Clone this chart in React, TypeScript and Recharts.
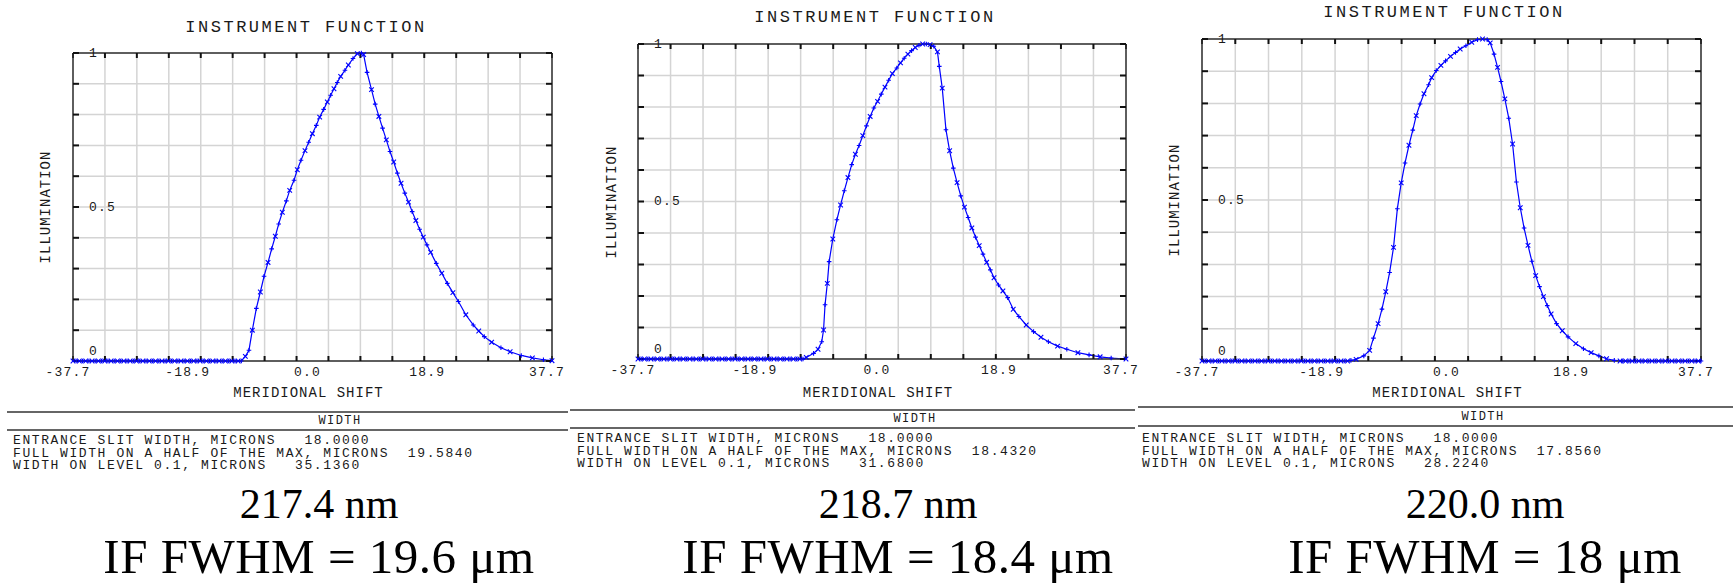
import React from 'react';
import { LineChart, Line, XAxis, YAxis, CartesianGrid } from 'recharts';

// axis ticks (shared by the three panels)
const xGridTicks = [-37.7, -32.67, -27.65, -22.62, -17.59, -12.57, -7.54, -2.51, 2.51, 7.54, 12.57, 17.59, 22.62, 27.65, 32.67, 37.7];
const xLabelTicks = [-37.7, -18.85, 0, 18.85, 37.7];
const xLabelText = ['-37.7', '-18.9', '0.0', '18.9', '37.7'];
const yGridTicks = [0, 0.1, 0.2, 0.3, 0.4, 0.5, 0.6, 0.7, 0.8, 0.9, 1];
const yLabelTicks = [0, 0.5, 1];
const yLabelText = ['0', '0.5', '1'];

// sample positions where the curves sit on zero
const baselineX = [
  -37.7, -37.2, -36.7, -36.2, -35.7, -35.2, -34.7, -34.2, -33.7, -33.2, -32.7, -32.2, -31.7, -31.2,
  -30.7, -30.2, -29.7, -29.2, -28.7, -28.2, -27.7, -27.2, -26.7, -26.2, -25.7, -25.2, -24.7, -24.2,
  -23.7, -23.2, -22.7, -22.2, -21.7, -21.2, -20.7, -20.2, -19.7, -19.2, -18.7, -18.2, -17.7, -17.2,
  -16.7, -16.2, -15.7, -15.2, -14.7, -14.2, -13.7, -13.2, -12.7, -12.2, -11.7, -11.2,
  25.8, 26.3, 26.8, 27.3, 27.8, 28.3, 28.8, 29.3, 29.8, 30.3, 30.8, 31.3, 31.8, 32.3, 32.8, 33.3,
  33.8, 34.3, 34.8, 35.3, 35.8, 36.3, 36.8, 37.3, 37.7,
];

// 217.4 nm  [shift, illumination]
const if2174: [number, number][] = [
  [-10.57, 0.015], [-10.0, 0.035], [-9.47, 0.1], [-8.84, 0.171], [-8.21, 0.224], [-7.63, 0.275],
  [-7.0, 0.32], [-6.43, 0.364], [-5.85, 0.405], [-5.32, 0.445], [-4.75, 0.483], [-4.12, 0.52],
  [-3.59, 0.554], [-2.91, 0.587], [-2.39, 0.621], [-1.81, 0.652], [-1.18, 0.683], [-0.6, 0.71],
  [-0.02, 0.738], [0.6, 0.765], [1.13, 0.792], [1.76, 0.817], [2.33, 0.841], [2.86, 0.863],
  [3.38, 0.884], [3.9, 0.904], [4.43, 0.924], [5.11, 0.944], [5.64, 0.961], [6.37, 0.982],
  [7.06, 0.998], [7.69, 1.0], [8.05, 0.995], [8.59, 0.937], [9.29, 0.881], [9.87, 0.834],
  [10.45, 0.794], [11.03, 0.756], [11.62, 0.718], [12.2, 0.68], [12.78, 0.646], [13.36, 0.61],
  [13.94, 0.577], [14.53, 0.545], [15.11, 0.516], [15.69, 0.485], [16.27, 0.456], [16.86, 0.428],
  [17.44, 0.402], [18.02, 0.377], [18.6, 0.353], [19.48, 0.317], [20.35, 0.285], [21.22, 0.252],
  [22.1, 0.222], [22.97, 0.193], [24.13, 0.15], [25.3, 0.117], [26.17, 0.0975], [27.04, 0.079],
  [28.2, 0.061], [29.66, 0.043], [31.11, 0.03], [32.86, 0.018], [34.61, 0.01], [36.35, 0.004],
  [37.7, 0.001],
];

// 218.7 nm
const if2187: [number, number][] = [
  [-11.7, 0.005], [-10.57, 0.018], [-9.88, 0.031], [-9.31, 0.055], [-9.03, 0.092], [-8.8, 0.172],
  [-8.45, 0.24], [-8.17, 0.309], [-7.6, 0.381], [-6.97, 0.442], [-6.4, 0.489], [-5.83, 0.534],
  [-5.26, 0.576], [-4.68, 0.617], [-4.11, 0.65], [-3.54, 0.678], [-2.97, 0.709], [-2.4, 0.74],
  [-1.83, 0.77], [-1.26, 0.797], [-0.68, 0.818], [-0.11, 0.841], [0.46, 0.863], [1.03, 0.885],
  [1.6, 0.906], [2.29, 0.924], [2.86, 0.94], [3.43, 0.955], [4.0, 0.968], [4.57, 0.979],
  [5.14, 0.989], [5.71, 0.996], [6.28, 1.0], [6.85, 1.0], [7.43, 0.998], [8.0, 0.993],
  [8.57, 0.975], [8.85, 0.929], [9.31, 0.86], [9.88, 0.728], [10.45, 0.661], [11.02, 0.606],
  [11.6, 0.56], [12.17, 0.518], [12.74, 0.482], [13.31, 0.449], [13.88, 0.416], [14.45, 0.387],
  [15.02, 0.36], [15.6, 0.333], [16.17, 0.307], [16.74, 0.283], [17.31, 0.258], [18.0, 0.235],
  [18.68, 0.216], [19.42, 0.195], [20.28, 0.158], [21.14, 0.135], [22.28, 0.108], [23.42, 0.087],
  [24.56, 0.069], [25.71, 0.055], [27.13, 0.041], [28.56, 0.031], [30.27, 0.02], [31.99, 0.013],
  [33.7, 0.007], [35.41, 0.003], [37.7, 0],
];

// 220.0 nm
const if2200: [number, number][] = [
  [-15.2, 0.002], [-14.41, 0.005], [-13.25, 0.016], [-12.37, 0.033], [-11.79, 0.071], [-11.09, 0.116],
  [-10.51, 0.161], [-9.93, 0.215], [-9.35, 0.275], [-8.76, 0.353], [-8.18, 0.473], [-7.6, 0.553],
  [-7.02, 0.615], [-6.43, 0.67], [-5.85, 0.717], [-5.33, 0.762], [-4.75, 0.798], [-4.16, 0.83],
  [-3.46, 0.858], [-3.0, 0.88], [-2.3, 0.902], [-1.6, 0.918], [-0.9, 0.932], [-0.15, 0.946],
  [0.61, 0.958], [1.31, 0.969], [2.18, 0.979], [3.06, 0.99], [3.93, 0.998], [4.69, 1.0],
  [5.39, 0.998], [5.85, 0.988], [6.43, 0.953], [6.96, 0.912], [7.48, 0.868], [8.06, 0.814],
  [8.65, 0.754], [9.23, 0.674], [9.81, 0.556], [10.39, 0.476], [10.97, 0.413], [11.56, 0.359],
  [12.14, 0.31], [12.72, 0.265], [13.3, 0.231], [13.89, 0.2], [14.47, 0.172], [15.05, 0.146],
  [15.87, 0.116], [16.74, 0.094], [17.61, 0.075], [18.78, 0.054], [19.94, 0.038], [21.1, 0.026],
  [22.27, 0.016], [23.43, 0.007], [24.6, 0.002], [25.47, 0],
];

const wavelengths = ['217.4 nm', '218.7 nm', '220.0 nm'];
const fwhmValues = ['19.6', '18.4', '18'];
const slitWidths = ['18.0000', '18.0000', '18.0000'];
const halfMaxWidths = ['19.5840', '18.4320', '17.8560'];
const level01Widths = ['35.1360', '31.6800', '28.2240'];

const toPoints = (pairs: [number, number][]) => pairs.map(([x, y]) => ({ x, y }));
const zeros = (from: number, to: number) =>
  baselineX.filter((x) => x >= from && x <= to).map((x) => ({ x, y: 0 }));

const series = [
  [...zeros(-40, -11.2), ...toPoints(if2174)],
  [...zeros(-40, -12.2), ...toPoints(if2187)],
  [...zeros(-40, -15.7), ...toPoints(if2200), ...zeros(25.8, 40)],
];

// page placement of each panel (plot frame and surrounding texts)
const layout = [
  { box: { left: 73, top: 53, right: 552, bottom: 361 }, titleX: 306, titleY: 27, yLabelX: 46,
    rule: { left: 7, right: 568, y1: 412, y2: 430 }, widthX: 340, widthY: 421, textX: 13, textY: 441, bigX: 319 },
  { box: { left: 638, top: 44, right: 1126, bottom: 359 }, titleX: 875, titleY: 17, yLabelX: 612,
    rule: { left: 570, right: 1135, y1: 410, y2: 428 }, widthX: 915, widthY: 419, textX: 577, textY: 439, bigX: 898 },
  { box: { left: 1202, top: 39, right: 1701, bottom: 361 }, titleX: 1444, titleY: 12, yLabelX: 1175,
    rule: { left: 1138, right: 1733, y1: 407, y2: 426 }, widthX: 1483, widthY: 417, textX: 1142, textY: 439, bigX: 1485 },
];

const MONO = "'Courier New', 'Liberation Mono', monospace";
const SERIF = "'Liberation Serif', 'DejaVu Serif', serif";
const INK = '#1a1a1a';
const BLUE = '#0000ff';
const frame = { stroke: '#333', strokeWidth: 1.5 };
const innerTick = { stroke: '#111', strokeWidth: 2 };

const renderMarker = (props: any) => {
  const { cx, cy, index } = props;
  const r = 2.3;
  const d =
    index % 2 === 0
      ? `M${cx - r},${cy - r}L${cx + r},${cy + r}M${cx - r},${cy + r}L${cx + r},${cy - r}`
      : `M${cx - r},${cy}H${cx + r}M${cx},${cy - r}V${cy + r}`;
  return <path key={`m${index}`} d={d} stroke={BLUE} strokeWidth={1.1} fill="none" />;
};

// grid-only axes: keep the ticks (for grid and inner tick marks) but draw no label
const EmptyTick = () => <g />;

const XLabelTick = (props: any) => {
  const i = xLabelTicks.indexOf(props.payload.value);
  if (i < 0) return <g />;
  return (
    <text x={props.x - 5} y={props.y + 11} textAnchor="middle" dominantBaseline="central"
      fontFamily={MONO} fontSize={13} letterSpacing={1.2} fill={INK}>
      {xLabelText[i]}
    </text>
  );
};

const YLabelTick = (props: any) => {
  const v = props.payload.value;
  const i = yLabelTicks.indexOf(v);
  if (i < 0) return <g />;
  return (
    <text x={props.x} y={props.y + (v === 0 ? -10 : 0)} textAnchor="start" dominantBaseline="central"
      fontFamily={MONO} fontSize={13} letterSpacing={1.2} fill={INK}>
      {yLabelText[i]}
    </text>
  );
};

function Panel({ data, idx }: { data: { x: number; y: number }[]; idx: number }) {
  const L = layout[idx];
  const m = { top: 10, right: 34, bottom: 30, left: 34 };
  const bw = L.box.right - L.box.left;
  const bh = L.box.bottom - L.box.top;
  const dom: [number, number] = [-37.7, 37.7];
  return (
    <>
      <div style={{ position: 'absolute', left: L.box.left - m.left, top: L.box.top - m.top }}>
        <LineChart width={bw + m.left + m.right} height={bh + m.top + m.bottom + 1} margin={m}>
          <CartesianGrid xAxisId="gridT" yAxisId="main" stroke="#d4d4d4" strokeWidth={1.5} />
          <XAxis xAxisId="gridT" orientation="top" type="number" dataKey="x" domain={dom} allowDataOverflow
            ticks={xGridTicks} interval={0} height={1} mirror tickSize={5} tick={EmptyTick}
            tickLine={innerTick} axisLine={frame} />
          <XAxis xAxisId="gridB" orientation="bottom" type="number" dataKey="x" domain={dom} allowDataOverflow
            ticks={xGridTicks} interval={0} height={1} mirror tickSize={5} tick={EmptyTick}
            tickLine={innerTick} axisLine={frame} />
          <XAxis xAxisId="main" orientation="bottom" type="number" dataKey="x" domain={dom}
            ticks={xLabelTicks} interval={0} height={1} tickSize={0} tickMargin={0}
            tickLine={false} axisLine={false} tick={XLabelTick} />
          <YAxis yAxisId="main" orientation="left" type="number" domain={[0, 1]} ticks={yGridTicks}
            interval={0} width={1} mirror tickSize={6} tickMargin={10} tickLine={innerTick}
            axisLine={frame} tick={YLabelTick} />
          <YAxis yAxisId="right" orientation="right" type="number" domain={[0, 1]} allowDataOverflow
            ticks={yGridTicks} interval={0} width={1} mirror tickSize={6} tick={EmptyTick}
            tickLine={innerTick} axisLine={frame} />
          <Line xAxisId="main" yAxisId="main" data={data} dataKey="y" type="linear" stroke={BLUE}
            strokeWidth={1.2} dot={renderMarker} activeDot={false} isAnimationActive={false} />
        </LineChart>
      </div>

      <div style={{ position: 'absolute', left: L.titleX, top: L.titleY, transform: 'translate(-50%, -50%)',
        fontFamily: MONO, fontSize: 17, letterSpacing: 2.5, color: INK, whiteSpace: 'pre' }}>
        INSTRUMENT FUNCTION
      </div>
      <div style={{ position: 'absolute', left: (L.box.left + L.box.right) / 2 - 4, top: 393,
        transform: 'translate(-50%, -50%)', fontFamily: MONO, fontSize: 14, letterSpacing: 1,
        color: INK, whiteSpace: 'pre' }}>
        MERIDIONAL SHIFT
      </div>
      <div style={{ position: 'absolute', left: L.yLabelX, top: (L.box.top + L.box.bottom) / 2,
        transform: 'translate(-50%, -50%) rotate(-90deg)', fontFamily: MONO, fontSize: 14,
        letterSpacing: 1, color: INK, whiteSpace: 'pre' }}>
        ILLUMINATION
      </div>

      <div style={{ position: 'absolute', left: L.rule.left, width: L.rule.right - L.rule.left,
        top: L.rule.y1 - 1, height: 0, borderTop: '2px solid #666' }} />
      <div style={{ position: 'absolute', left: L.rule.left, width: L.rule.right - L.rule.left,
        top: L.rule.y2 - 1, height: 0, borderTop: '2px solid #666' }} />
      <div style={{ position: 'absolute', left: L.widthX, top: L.widthY, transform: 'translate(-50%, -50%)',
        fontFamily: MONO, fontSize: 12, letterSpacing: 1.4, color: INK }}>
        WIDTH
      </div>
      <div style={{ position: 'absolute', left: L.textX, top: L.textY - 6, fontFamily: MONO, fontSize: 13,
        letterSpacing: 1.6, lineHeight: '12.5px', color: INK, whiteSpace: 'pre' }}>
        {`ENTRANCE SLIT WIDTH, MICRONS   ${slitWidths[idx]}\nFULL WIDTH ON A HALF OF THE MAX, MICRONS  ${halfMaxWidths[idx]}\nWIDTH ON LEVEL 0.1, MICRONS   ${level01Widths[idx]}`}
      </div>

      <div style={{ position: 'absolute', left: L.bigX, top: 504, transform: 'translate(-50%, -50%)',
        fontFamily: SERIF, fontSize: 42, color: '#000', whiteSpace: 'pre' }}>
        {wavelengths[idx]}
      </div>
      <div style={{ position: 'absolute', left: L.bigX, top: 556, transform: 'translate(-50%, -50%)',
        fontFamily: SERIF, fontSize: 49, letterSpacing: 0.5, color: '#000', whiteSpace: 'pre' }}>
        {`IF FWHM = ${fwhmValues[idx]} \u03bcm`}
      </div>
    </>
  );
}

export default function App() {
  return (
    <div style={{ position: 'absolute', left: 0, top: 0, width: 1733, height: 583, background: '#fff', overflow: 'hidden' }}>
      {series.map((data, i) => (
        <Panel key={i} data={data} idx={i} />
      ))}
    </div>
  );
}
